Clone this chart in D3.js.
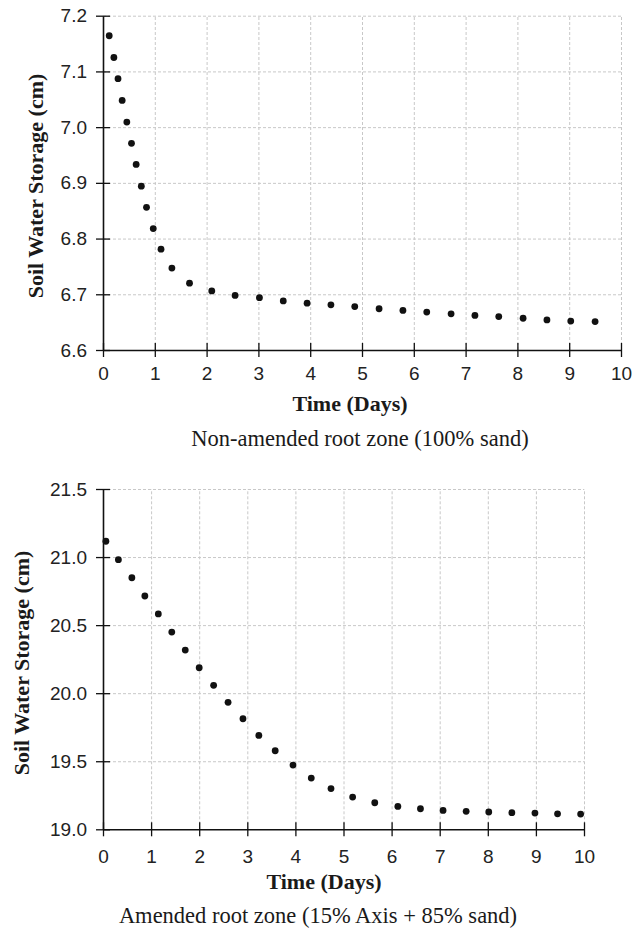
<!DOCTYPE html>
<html>
<head>
<meta charset="utf-8">
<script src="https://cdn.jsdelivr.net/npm/d3@7"></script>
<style>
  body { margin: 0; background: #fff; }
  .grid line { stroke: #c8c8c8; stroke-dasharray: 3,2; }
  .grid path { display: none; }
</style>
</head>
<body>
<div id="chart"></div>
<script>
// Top panel: non-amended root zone (100% sand)
const topDays = [0.12, 0.21, 0.29, 0.37, 0.46, 0.55, 0.64, 0.74, 0.84, 0.97,
  1.12, 1.33, 1.67, 2.10, 2.55, 3.02, 3.48, 3.94, 4.40, 4.86,
  5.33, 5.79, 6.25, 6.72, 7.18, 7.64, 8.11, 8.57, 9.03, 9.50];
const topStorage = [7.164, 7.125, 7.087, 7.048, 7.009, 6.971, 6.933, 6.894, 6.856, 6.818,
  6.781, 6.747, 6.720, 6.706, 6.698, 6.694, 6.688, 6.684, 6.681, 6.678,
  6.674, 6.671, 6.668, 6.665, 6.662, 6.660, 6.657, 6.654, 6.652, 6.651];

// Bottom panel: amended root zone (15% Axis + 85% sand)
const bottomDays = [0.06, 0.32, 0.60, 0.87, 1.15, 1.43, 1.71, 2.00, 2.30, 2.60,
  2.91, 3.24, 3.58, 3.95, 4.33, 4.74, 5.19, 5.65, 6.13, 6.60,
  7.07, 7.55, 8.02, 8.50, 8.98, 9.45, 9.93];
const bottomStorage = [21.116, 20.981, 20.848, 20.714, 20.582, 20.449, 20.317, 20.187, 20.058, 19.933,
  19.812, 19.690, 19.577, 19.472, 19.376, 19.299, 19.237, 19.195, 19.168, 19.151,
  19.139, 19.132, 19.127, 19.122, 19.119, 19.114, 19.112];

const dayTicks = [0, 1, 2, 3, 4, 5, 6, 7, 8, 9, 10];
const topTicks = [6.6, 6.7, 6.8, 6.9, 7.0, 7.1, 7.2];
const bottomTicks = [19.0, 19.5, 20.0, 20.5, 21.0, 21.5];

const xLabel = "Time (Days)";
const yLabel = "Soil Water Storage (cm)";
const topCaption = "Non-amended root zone (100% sand)";
const bottomCaption = "Amended root zone (15% Axis + 85% sand)";

let svg = d3.select("#chart")
  .append("svg")
  .attr("width", 641)
  .attr("height", 931);

// draws one panel; box holds pixel placement
function drawPanel(days, storage, yTicks, box, caption) {
  let xScale = d3.scaleLinear().domain([0, 10]).range([box.left, box.right]);
  let yScale = d3.scaleLinear()
    .domain([yTicks[0], yTicks[yTicks.length - 1]])
    .range([box.bottom, box.top]);

  // dashed gridlines
  svg.append("g")
    .attr("class", "grid")
    .attr("transform", `translate(0,${box.bottom})`)
    .call(d3.axisBottom(xScale).tickValues(dayTicks.slice(1))
      .tickSize(-(box.bottom - box.top)).tickFormat(""));
  svg.append("g")
    .attr("class", "grid")
    .attr("transform", `translate(${box.left},0)`)
    .call(d3.axisLeft(yScale).tickValues(yTicks.slice(1))
      .tickSize(-(box.right - box.left)).tickFormat(""));

  // x axis, ticks cross the line
  let xAxis = svg.append("g")
    .attr("transform", `translate(0,${box.bottom})`)
    .call(d3.axisBottom(xScale).tickValues(dayTicks).tickSize(7).tickSizeOuter(0)
      .tickPadding(box.xPad));
  xAxis.selectAll(".tick line").attr("y1", -7);

  let yAxis = svg.append("g")
    .attr("transform", `translate(${box.left},0)`)
    .call(d3.axisLeft(yScale).tickValues(yTicks).tickSize(7).tickSizeOuter(0).tickPadding(9)
      .tickFormat(d3.format(".1f")));
  yAxis.selectAll(".tick line").attr("x1", 7);

  svg.selectAll(".domain").attr("stroke", "#111").attr("stroke-width", 1.6);
  [xAxis, yAxis].forEach(a => {
    a.selectAll(".tick line").attr("stroke", "#111").attr("stroke-width", 1.3);
    a.selectAll("text")
      .attr("fill", "#222")
      .style("font-family", "'Liberation Sans', Arial, sans-serif")
      .style("font-size", "19px");
  });
  xAxis.selectAll("text").attr("dy", "0.71em");

  // points
  svg.append("g")
    .selectAll("circle")
    .data(days)
    .enter().append("circle")
    .attr("cx", d => xScale(d))
    .attr("cy", (d, i) => yScale(storage[i]))
    .attr("r", 3.4)
    .attr("fill", "#111");

  // labels
  svg.append("text")
    .attr("x", box.xTitleX)
    .attr("y", box.xTitleY)
    .attr("text-anchor", "middle")
    .style("font-family", "'Liberation Serif', 'Times New Roman', serif")
    .style("font-weight", "bold")
    .style("font-size", "22px")
    .attr("fill", "#1a1a1a")
    .text(xLabel);

  svg.append("text")
    .attr("transform", `translate(${box.yTitleX},${box.yTitleY}) rotate(-90)`)
    .attr("text-anchor", "middle")
    .style("font-family", "'Liberation Serif', 'Times New Roman', serif")
    .style("font-weight", "bold")
    .style("font-size", "22px")
    .attr("fill", "#1a1a1a")
    .text(yLabel);

  svg.append("text")
    .attr("x", box.captionX)
    .attr("y", box.captionY)
    .attr("text-anchor", "middle")
    .style("font-family", "'Liberation Serif', 'Times New Roman', serif")
    .style("font-size", "22.5px")
    .attr("fill", "#1a1a1a")
    .text(caption);
}

drawPanel(topDays, topStorage, topTicks,
  { left: 103, right: 621, top: 15.7, bottom: 350, xPad: 10,
    xTitleX: 350, xTitleY: 411, yTitleX: 43, yTitleY: 186,
    captionX: 360, captionY: 446 },
  topCaption);

drawPanel(bottomDays, bottomStorage, bottomTicks,
  { left: 103, right: 584, top: 489, bottom: 829.3, xPad: 13,
    xTitleX: 324, xTitleY: 889, yTitleX: 29, yTitleY: 663,
    captionX: 318, captionY: 923 },
  bottomCaption);
</script>
</body>
</html>
